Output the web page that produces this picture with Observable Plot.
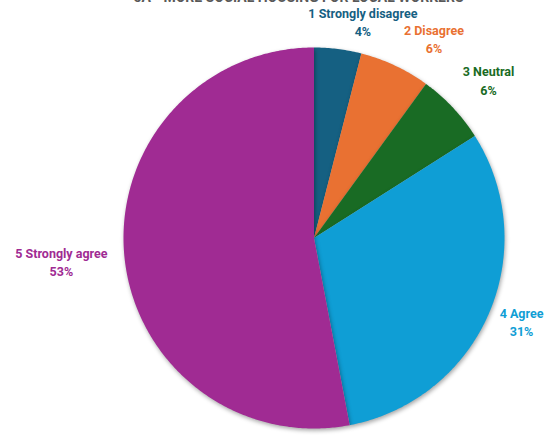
<!DOCTYPE html>
<html>
<head>
<meta charset="utf-8">
<script src="https://cdn.jsdelivr.net/npm/d3@7"></script>
<script src="https://cdn.jsdelivr.net/npm/@observablehq/plot@0.6"></script>
<style>
  html, body { margin: 0; padding: 0; background: #fff; }
  #chart svg { display: block; }
  .slices path { filter: drop-shadow(1px 2px 2px rgba(0,0,0,0.35)); }
</style>
</head>
<body>
<div id="chart"></div>
<script>
// ---- data ----
const categories = ["1 Strongly disagree", "2 Disagree", "3 Neutral", "4 Agree", "5 Strongly agree"];
const shares = [4, 6, 6, 31, 53];
const percentLabels = ["4%", "6%", "6%", "31%", "53%"];
const titleText = "5A - MORE SOCIAL HOUSING FOR LOCAL WORKERS";

// ---- style / layout ----
const colors = ["#156082", "#e97132", "#196b24", "#0f9ed5", "#a02b93"];
const W = 548, H = 435;
const cx = 313.5, cy = 237.5, R = 190.5;
// label nudges (px) from the point just outside each slice's mid-angle
const labelNudge = [[23, -12], [32, -13], [24, -17], [18, 1], [-47, 4]];

// build slice polygons in a data space centred on the pie (y up)
const pie = d3.pie().sort(null).value(d => d.share)(categories.map((c, i) => ({cat: c, share: shares[i]})));
const slicePts = [];
pie.forEach(s => {
  const n = Math.max(2, Math.ceil((s.endAngle - s.startAngle) / 0.01));
  slicePts.push({cat: s.data.cat, x: 0, y: 0});
  for (let k = 0; k <= n; k++) {
    const a = s.startAngle + (s.endAngle - s.startAngle) * k / n;
    slicePts.push({cat: s.data.cat, x: R * Math.sin(a), y: R * Math.cos(a)});
  }
  slicePts.push({cat: s.data.cat, x: 0, y: 0});
});
const labels = pie.map((s, i) => {
  const a = (s.startAngle + s.endAngle) / 2;
  return {
    cat: s.data.cat,
    text: s.data.cat + "\n" + percentLabels[i],
    x: (R + 16) * Math.sin(a) + labelNudge[i][0],
    y: (R + 16) * Math.cos(a) - labelNudge[i][1]
  };
});

const chart = Plot.plot({
  width: W, height: H,
  margin: 0,
  x: {domain: [-cx, W - cx], axis: null},
  y: {domain: [-(H - cy), cy], axis: null},
  color: {domain: categories, range: colors},
  style: {fontFamily: "Roboto, 'Open Sans', sans-serif", overflow: "visible"},
  marks: [
    Plot.line(slicePts, {x: "x", y: "y", z: "cat", fill: "cat", stroke: "none", className: "slices", curve: "linear"}),
    Plot.text(labels, {x: "x", y: "y", text: "text", fill: "cat", fontSize: 12.5, fontWeight: 700, lineHeight: 1.45, textAnchor: "middle", lineAnchor: "middle"}),
    Plot.text([titleText], {frameAnchor: "top", dx: 24, dy: -8, text: d => d, fill: "#595959", fontSize: 14, fontWeight: 700, lineAnchor: "top"})
  ]
});
document.getElementById("chart").appendChild(chart);
</script>
</body>
</html>
